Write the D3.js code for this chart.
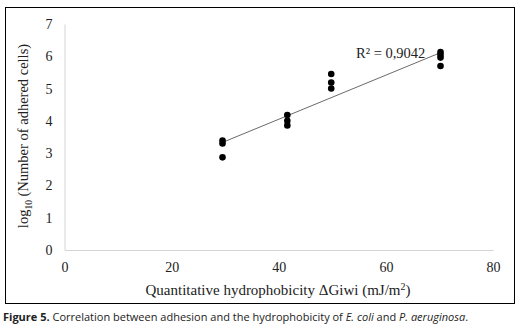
<!DOCTYPE html>
<html><head><meta charset="utf-8">
<script src="https://cdn.jsdelivr.net/npm/d3@7"></script>
<style>body{margin:0;background:#fff;}svg{display:block;}</style>
</head><body>
<script>
const xVals = [29.5,29.5,29.5, 41.6,41.6,41.6, 49.8,49.8,49.8, 70.2,70.2,70.2,70.2];
const yVals = [3.39,3.30,2.87, 4.18,4.00,3.86, 5.45,5.19,5.00, 6.13,6.05,5.96,5.70];
const xTicks = [0,20,40,60,80];
const yTicks = [0,1,2,3,4,5,6,7];
const r2Label = "R² = 0,9042";

const W=524,H=331;
const svg=d3.select("body").append("svg").attr("width",W).attr("height",H);
svg.append("rect").attr("width",W).attr("height",H).attr("fill","#fff");
svg.append("rect").attr("x",5.5).attr("y",7.5).attr("width",509).attr("height",296)
  .attr("fill","none").attr("stroke","#000").attr("stroke-width",1);

const x=d3.scaleLinear().domain([0,80]).range([64.5,493]);
const y=d3.scaleLinear().domain([0,7]).range([250,24]);
const serif="'Liberation Serif','DejaVu Serif',serif";

// axes
const xAxis=svg.append("g").attr("transform",`translate(0,${y(0)})`)
  .call(d3.axisBottom(x).tickValues(xTicks).tickFormat(d3.format("d")).tickSize(0).tickPadding(12));
const yAxis=svg.append("g").attr("transform",`translate(${x(0)},0)`)
  .call(d3.axisLeft(y).tickValues(yTicks).tickFormat(d3.format("d")).tickSize(0).tickPadding(12));
[xAxis,yAxis].forEach(g=>{
  g.select(".domain").attr("stroke","#d4d4d4").attr("stroke-width",1);
  g.selectAll("text").attr("font-family",serif).attr("font-size",14).attr("fill","#222");
});

// trendline (least squares)
const mx=d3.mean(xVals),my=d3.mean(yVals);
let sxy=0,sxx=0;
xVals.forEach((v,i)=>{sxy+=(v-mx)*(yVals[i]-my);sxx+=(v-mx)*(v-mx);});
const slope=sxy/sxx,icpt=my-slope*mx;
const x0=d3.min(xVals),x1=d3.max(xVals);
svg.append("line").attr("x1",x(x0)).attr("y1",y(icpt+slope*x0))
  .attr("x2",x(x1)).attr("y2",y(icpt+slope*x1))
  .attr("stroke","#444").attr("stroke-width",0.8);

// points
svg.append("g").selectAll("circle").data(xVals).join("circle")
  .attr("cx",d=>x(d)).attr("cy",(d,i)=>y(yVals[i])).attr("r",3.3).attr("fill","#000");

// R2 label
svg.append("text").attr("x",356).attr("y",58).attr("font-family",serif).attr("font-size",14.5)
  .attr("fill","#222").text(r2Label);

// axis titles
svg.append("text").attr("x",278).attr("y",295).attr("text-anchor","middle")
  .attr("font-family",serif).attr("font-size",15).attr("fill","#222")
  .html('Quantitative hydrophobicity ΔGiwi (mJ/m<tspan dy="-5" font-size="10">2</tspan><tspan dy="5">)</tspan>');
svg.append("text").attr("transform","translate(28,136) rotate(-90)").attr("text-anchor","middle")
  .attr("font-family",serif).attr("font-size",14.5).attr("fill","#222")
  .html('log<tspan dy="4" font-size="9.5">10</tspan><tspan dy="-4"> (Number of adhered cells)</tspan>');

// caption
const sans="'Open Sans','Noto Sans',sans-serif";
svg.append("text").attr("x",3).attr("y",321).attr("font-family",sans).attr("font-size",11).attr("fill","#222")
  .html('<tspan font-weight="bold">Figure 5.</tspan> Correlation between adhesion and the hydrophobicity of <tspan font-style="italic">E. coli</tspan> and <tspan font-style="italic">P. aeruginosa</tspan>.');
</script>
</body></html>
